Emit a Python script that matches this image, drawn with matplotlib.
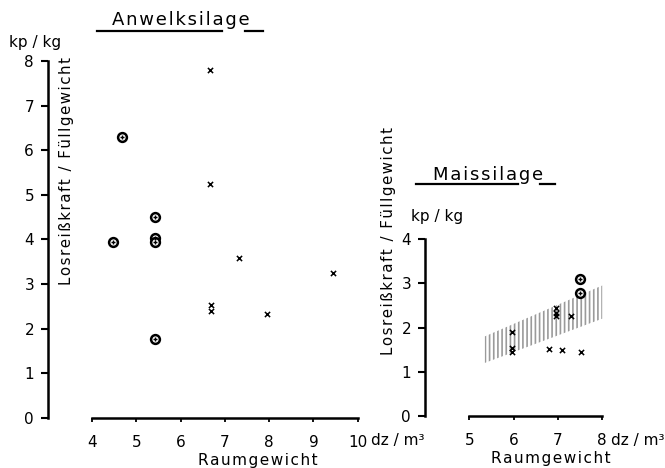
import matplotlib
matplotlib.use("Agg")
import matplotlib.pyplot as plt
import numpy as np

W, H = 665, 468

# Anwelksilage
anw_circ_x = [4.48, 4.68, 5.42, 5.42, 5.42, 5.42]
anw_circ_y = [3.95, 6.30, 4.50, 4.04, 3.94, 1.77]
anw_x_x = [6.67, 6.67, 6.69, 6.69, 7.32, 7.95, 9.45]
anw_x_y = [7.80, 5.25, 2.53, 2.40, 3.59, 2.33, 3.25]

# Maissilage
mais_circ_x = [7.5, 7.5]
mais_circ_y = [3.10, 2.78]
mais_x_x = [5.97, 5.97, 5.97, 6.96, 6.96, 6.96, 7.30, 6.80, 7.10, 7.53]
mais_x_y = [1.90, 1.54, 1.45, 2.44, 2.32, 2.26, 2.26, 1.51, 1.50, 1.45]
band_x = [5.35, 8.0]
band_lo = [1.20, 2.20]
band_hi = [1.80, 2.95]

left_ticks_x = [4, 5, 6, 7, 8, 9, 10]
left_ticks_y = [0, 1, 2, 3, 4, 5, 6, 7, 8]
right_ticks_x = [5, 6, 7, 8]
right_ticks_y = [0, 1, 2, 3, 4]

plt.rcParams['font.family'] = ['DejaVu Sans']
plt.rcParams['hatch.color'] = '#9a9a9a'
plt.rcParams['hatch.linewidth'] = 1.2

fig = plt.figure(figsize=(W / 100, H / 100), dpi=100)


def fx(x):
    return x / W


def fy(y):
    return 1 - y / H


def spaced(s, sep='\u200a'):
    # wide lettering like the stencil font of the original
    return sep.join(s)


def style(ax, xb, yb):
    for s in ['top', 'right']:
        ax.spines[s].set_visible(False)
    ax.spines['left'].set_linewidth(1.8)
    ax.spines['bottom'].set_linewidth(1.8)
    ax.spines['bottom'].set_position(('data', 0))
    ax.spines['bottom'].set_bounds(*xb)
    ax.spines['left'].set_bounds(*yb)
    ax.tick_params(axis='y', direction='out', length=5, width=1.5, pad=5, labelsize=11)
    ax.tick_params(axis='x', direction='out', length=3, width=1.3, pad=9, labelsize=11)


def points(ax, cx, cy, xx, xy):
    ax.scatter(cx, cy, s=40, facecolor='white', edgecolor='black', linewidth=1.8, zorder=3)
    ax.scatter(cx, cy, s=8, marker='+', color='black', linewidth=1.0, zorder=4)
    ax.scatter(xx, xy, s=14, marker='x', color='black', linewidth=1.1, zorder=4)


# left panel
ax1 = fig.add_axes([fx(48), fy(431.4), (371 - 48) / W, 379.4 / H])
ax1.set_xlim(3, 10.3)
ax1.set_ylim(-0.3, 8.2)
style(ax1, (4, 10), (0, 8))
ax1.set_xticks(left_ticks_x)
ax1.set_yticks(left_ticks_y)
points(ax1, anw_circ_x, anw_circ_y, anw_x_x, anw_x_y)

# right panel
ax2 = fig.add_axes([fx(425), fy(429.3), (615.5 - 425) / W, 199.1 / H])
ax2.set_xlim(4, 8.3)
ax2.set_ylim(-0.3, 4.2)
style(ax2, (5, 8), (0, 4))
ax2.set_xticks(right_ticks_x)
ax2.set_yticks(right_ticks_y)
ax2.fill_between(band_x, band_lo, band_hi, facecolor='none', edgecolor='#9a9a9a',
                 hatch='||||', linewidth=0, zorder=1)
points(ax2, mais_circ_x, mais_circ_y, mais_x_x, mais_x_y)

# texts
fig.text(fx(181), fy(20), spaced('Anwelksilage'), fontsize=13, ha='center', va='center')
fig.text(fx(488), fy(175), spaced('Maissilage'), fontsize=13, ha='center', va='center')
for y, segs in [(31, [(97, 222), (245, 263)]), (184, [(416, 518), (540, 555)])]:
    for a, b in segs:
        fig.add_artist(plt.Line2D([fx(a), fx(b)], [fy(y), fy(y)], color='black',
                                  linewidth=1.6, transform=fig.transFigure))

fig.text(fx(35), fy(43), 'kp / kg', fontsize=11, ha='center', va='center')
fig.text(fx(437), fy(216), 'kp / kg', fontsize=11, ha='center', va='center')

ylab = spaced('Losreißkraft / Füllgewicht')
fig.text(fx(67), fy(171), ylab, fontsize=10.8, rotation=90, ha='center', va='center')
fig.text(fx(389), fy(241), ylab, fontsize=10.8, rotation=90, ha='center', va='center')

fig.text(fx(258), fy(460), spaced('Raumgewicht'), fontsize=11, ha='center', va='center')
fig.text(fx(551), fy(458), spaced('Raumgewicht'), fontsize=11, ha='center', va='center')
fig.text(fx(371), fy(440), 'dz / m³', fontsize=11, ha='left', va='center')
fig.text(fx(611), fy(440), 'dz / m³', fontsize=11, ha='left', va='center')

fig.savefig('out.png', dpi=100)
